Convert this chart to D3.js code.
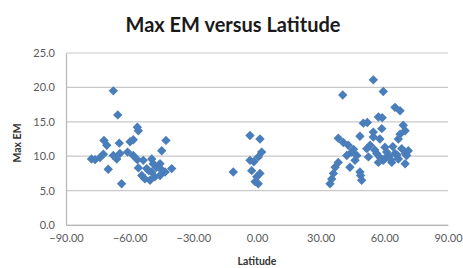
<!DOCTYPE html>
<html>
<head>
<meta charset="utf-8">
<script src="https://cdn.jsdelivr.net/npm/d3@7"></script>
<style>
  body { margin: 0; background: #fff; }
  text { font-family: Lato, "Open Sans", sans-serif; }
</style>
</head>
<body>
<div id="chart"></div>
<script>
// latitude / max EM pairs
const latitude = [
  -67.7, -65.6, -56.4, -55.9, -58.3, -59.8, -72.1, -70.8, -64.9, -42.9,
  -44.9, -76.3, -74.0, -72.4, -67.7, -66.1, -64.6, -70.1, -63.8, -58.3,
  -56.4, -53.6, -49.6, -55.9, -52.0, -48.9, -47.3, -45.7, -44.9, -40.2,
  -54.3, -52.8, -50.4, -48.1, -45.7, -43.3, -49.6, -61.0, -78.0, -51.0,
  -3.3, 1.4, 2.2, 0.6, -3.3, -1.5, -11.2, -2.5, -0.1, -0.9, 0.6, 1.4,
  54.8, 40.4, 59.5, 65.0, 67.4, 57.2, 59.0, 50.1, 52.0, 68.9,
  69.8, 54.8, 58.8, 48.5, 67.4, 66.6, 38.3, 40.7, 43.0, 54.8,
  57.9, 53.3, 51.7, 60.3, 68.2, 71.3, 44.6, 47.0, 56.4, 61.1,
  65.0, 70.5, 42.3, 46.2, 57.2, 59.5, 63.5, 66.6, 69.8, 38.3,
  36.8, 43.8, 48.5, 36.0, 35.2, 34.4, 49.3, 48.8, 62.0, 55.5,
  64.0, 52.5, 60.0, 45.5, 70.0, 58.0, 63.0, 66.0
];
const maxEM = [
  19.5, 16.0, 14.2, 13.7, 12.4, 12.1, 12.3, 11.6, 11.9, 12.3,
  10.8, 9.5, 9.8, 10.3, 10.1, 9.6, 10.4, 8.1, 6.0, 10.1,
  9.5, 9.4, 9.6, 8.3, 8.2, 8.9, 8.4, 8.9, 8.0, 8.2,
  7.2, 6.7, 6.5, 7.0, 7.2, 7.7, 7.7, 10.6, 9.6, 7.9,
  13.0, 12.5, 10.6, 9.9, 9.4, 9.2, 7.7, 7.9, 7.0, 6.3, 6.0, 7.5,
  21.1, 18.9, 19.4, 17.1, 16.6, 15.7, 15.6, 14.8, 14.9, 14.5,
  13.7, 13.5, 14.0, 12.9, 13.2, 12.5, 12.6, 12.0, 11.6, 12.8,
  12.5, 11.6, 11.1, 11.3, 11.1, 10.8, 10.6, 10.1, 10.4, 10.6,
  10.4, 10.1, 10.1, 9.4, 9.1, 9.4, 9.1, 9.6, 8.9, 9.1,
  8.4, 8.4, 7.7, 7.5, 6.7, 6.0, 6.5, 7.2, 10.0, 10.9,
  11.4, 9.9, 9.6, 11.0, 10.4, 9.8, 9.5, 10.2
];
const xTicks = [-90, -60, -30, 0, 30, 60, 90];
const yTicks = [0, 5, 10, 15, 20, 25];

const WIDTH = 463, HEIGHT = 268;
const MARGIN = { TOP: 53, BOTTOM: 43, LEFT: 66, RIGHT: 15 };

const svg = d3.select("#chart").append("svg")
  .attr("width", WIDTH)
  .attr("height", HEIGHT);

const x = d3.scaleLinear().domain([-90, 90]).range([MARGIN.LEFT, WIDTH - MARGIN.RIGHT]);
const y = d3.scaleLinear().domain([0, 25]).range([HEIGHT - MARGIN.BOTTOM, MARGIN.TOP]);

// gridlines
svg.append("g")
  .selectAll("line")
  .data(yTicks)
  .join("line")
  .attr("x1", x(-90))
  .attr("x2", x(90))
  .attr("y1", d => y(d))
  .attr("y2", d => y(d))
  .attr("stroke", "#c9c9c9")
  .attr("stroke-width", 1.2);

const xAxis = svg.append("g")
  .attr("transform", `translate(0, ${y(0)})`)
  .call(d3.axisBottom(x).tickValues(xTicks).tickFormat(d3.format(".2f")).tickSize(0).tickPadding(9));

const yAxis = svg.append("g")
  .attr("transform", `translate(${x(-90)}, 0)`)
  .call(d3.axisLeft(y).tickValues(yTicks).tickFormat(d3.format(".1f")).tickSize(0).tickPadding(11));

[xAxis, yAxis].forEach(g => {
  g.select(".domain").attr("stroke", "#b5b5b5").attr("stroke-width", 1.2);
  g.selectAll("text").attr("fill", "#595959").style("font-size", "11px");
});

// points
const diamond = d3.symbol().type(d3.symbolSquare).size(44);
svg.append("g")
  .selectAll("path")
  .data(latitude.map((d, i) => [d, maxEM[i]]))
  .join("path")
  .attr("d", diamond)
  .attr("transform", d => `translate(${x(d[0])}, ${y(d[1])}) rotate(45)`)
  .attr("fill", "#4a7ebb");

// titles
svg.append("text")
  .attr("x", 233)
  .attr("y", 32)
  .attr("text-anchor", "middle")
  .style("font-size", "20px")
  .style("font-weight", "bold")
  .attr("fill", "#1a1a1a")
  .text("Max EM versus Latitude");

svg.append("text")
  .attr("x", (x(-90) + x(90)) / 2)
  .attr("y", 265)
  .attr("text-anchor", "middle")
  .style("font-size", "10.5px")
  .style("font-weight", "bold")
  .attr("fill", "#333")
  .text("Latitude");

svg.append("text")
  .attr("transform", `translate(21, ${(y(0) + y(25)) / 2 + 4}) rotate(-90)`)
  .attr("text-anchor", "middle")
  .style("font-size", "10.5px")
  .style("font-weight", "bold")
  .attr("fill", "#333")
  .text("Max EM");
</script>
</body>
</html>
